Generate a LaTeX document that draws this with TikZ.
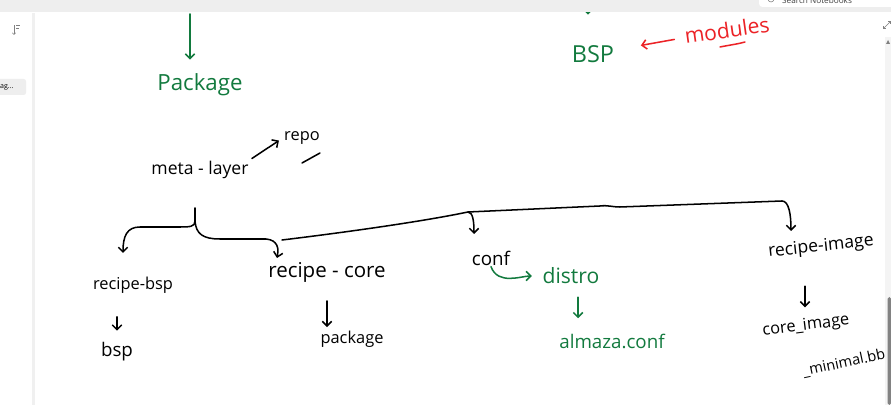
\documentclass[tikz,border=0pt]{standalone}
\usepackage{fontspec}
\setmainfont{Open Sans}
\definecolor{inkgreen}{RGB}{18, 122, 62}
\definecolor{inkred}{RGB}{236, 34, 38}
\definecolor{bargray}{RGB}{238, 238, 238}
\definecolor{trackgray}{RGB}{244, 244, 244}
\definecolor{thumbgray}{RGB}{130, 130, 130}
\usetikzlibrary{arrows.meta, positioning}

\begin{document}
\begin{tikzpicture}[
  x=0.03cm, y=-0.03cm,
  ink/.style={draw=black, line width=1.3pt, line cap=round, line join=round},
  tip/.style={-{Straight Barb[length=4pt, width=8pt, line width=1.3pt]}},
  hand/.style={inner sep=1pt, font=\fontsize{#1}{#1}\selectfont}
]
  \useasboundingbox (0,0) rectangle (891,405);
  \fill[white] (0,0) rectangle (891,405);

  \node[hand=19, text=inkgreen] (pkgTop) at (200,85) {Package};
  \node[hand=20, text=inkgreen] (bspTop) at (593,54) {BSP};
  \node[hand=18, text=inkred, rotate=8] (modules) at (727,30) {modules};
  \node[hand=15] (layer) at (200,170) {meta - layer};
  \node[hand=14] (repo) at (302,138) {repo};
  \node[hand=14] (recbsp) at (133,285) {recipe-bsp};
  \node[hand=16] (bsp) at (117,352) {bsp};
  \node[hand=17.5] (reccore) at (327,272) {recipe - core};
  \node[hand=14] (pkg) at (352,339) {package};
  \node[hand=16] (conf) at (491,258) {conf};
  \node[hand=18, text=inkgreen] (distro) at (571,276) {distro};
  \node[hand=16, text=inkgreen] (almaza) at (612,341) {almaza.conf};
  \node[hand=15, rotate=6] (recimg) at (821,247) {recipe-image};
  \node[hand=14, rotate=7, inner sep=0pt] (coreimg) at (806,326) {core\_image};
  \node[hand=12.5, rotate=12, inner sep=0pt] (minimal) at (844,363) {\_minimal.bb};

  \coordinate (pkgIn) at (190,14);
  \coordinate (bspIn) at (588,0);
  \coordinate (fork) at (195,208);
  \coordinate (split) at (195,221);
  \coordinate (bspTip) at (123,253);
  \coordinate (coreTip) at (277,258);
  \coordinate (rise) at (282,240);
  \coordinate (confTop) at (468,212);
  \coordinate (confTip) at (474,234);
  \coordinate (imgTop) at (782,201);
  \coordinate (imgTip) at (791,231);

  \draw[ink, draw=inkgreen, tip, shorten >=11pt] (pkgIn) -- (pkgIn |- pkgTop.north);
  \draw[ink, draw=inkgreen, tip, shorten >=25pt] (bspIn) -- (bspIn |- bspTop.north);
  \draw[ink, draw=inkred, tip, shorten <=8pt, shorten >=22pt] (modules) -- (bspTop);
  \draw[ink, draw=inkred] (720,47) .. controls (730,45) and (738,44) .. (745,42);

  \draw[ink, tip, shorten <=2pt, shorten >=4pt] (layer.north east) -- (repo.west);
  \draw[ink] (302,163) -- (320,153);

  \draw[ink] (fork) -- (split);
  \draw[ink, tip] (split) .. controls (195,227) and (190,227) .. (178,227) -- (140,227) .. controls (127,227) and (123,236) .. (bspTip);
  \draw[ink, tip] (split) .. controls (196,234) and (203,239) .. (220,239) -- (266,239) .. controls (278,240) and (279,249) .. (coreTip);
  \draw[ink] (rise) .. controls (340,233) and (420,222) .. (confTop);
  \draw[ink, tip] (confTop) .. controls (473,212) and (474,222) .. (confTip);
  \draw[ink] (confTop) -- (600,206) .. controls (608,205) and (612,207) .. (620,207) -- (imgTop);
  \draw[ink, tip] (imgTop) .. controls (789,201) and (791,215) .. (imgTip);

  \draw[ink, tip, shorten <=19pt, shorten >=9pt] (bsp.north |- recbsp.south) -- (bsp.north);
  \draw[ink, tip, shorten <=15pt, shorten >=2pt] (reccore.south) -- (reccore.south |- pkg.north);
  \draw[ink, draw=inkgreen, tip, shorten >=8pt] (conf.south) to[out=-70, in=180] (distro.west);
  \draw[ink, draw=inkgreen, tip, shorten <=10pt, shorten >=12pt] ([xshift=6pt]distro.south) -- ([xshift=6pt]distro.south |- almaza.north);
  \draw[ink, tip, shorten <=25pt, shorten >=9pt] (coreimg.north |- recimg.south) -- (coreimg.north);

  \fill[bargray] (0,0) rectangle (891,12);
  \fill[white, rounded corners=3pt] (759,-6) rectangle (896,7);
  \begin{scope}
    \clip (759,0) rectangle (891,7);
    \draw[gray, line width=0.5pt] (771,-1) circle (3);
    \node[font=\fontsize{7}{7}\selectfont, text=darkgray, anchor=west, inner sep=0pt] (search) at (782,0) {Search Notebooks};
  \end{scope}
  \fill[gray!12] (32,13) rectangle (35,405);
  \draw[gray, line width=0.5pt, -{Straight Barb[length=1.5pt, width=3pt]}] (14,25) -- (14,35);
  \draw[gray, line width=0.5pt] (16,25) -- (20,25) (16,28) -- (19,28);
  \fill[bargray, rounded corners=2pt] (-5,79) rectangle (26,95);
  \node[font=\fontsize{6}{6}\selectfont, anchor=west, inner sep=0pt] (pageTab) at (0,87) {ag...};
  \draw[gray, line width=0.5pt, {Straight Barb[length=1.5pt, width=3pt]}-{Straight Barb[length=1.5pt, width=3pt]}] (883,29) -- (891,21);
  \fill[trackgray] (885,37) rectangle (891,405);
  \fill[gray] (888,40) -- (890,44) -- (886,44) -- cycle;
  \fill[thumbgray, rounded corners=1.5pt] (887.5,297) rectangle (891,405);
\end{tikzpicture}
\end{document}
